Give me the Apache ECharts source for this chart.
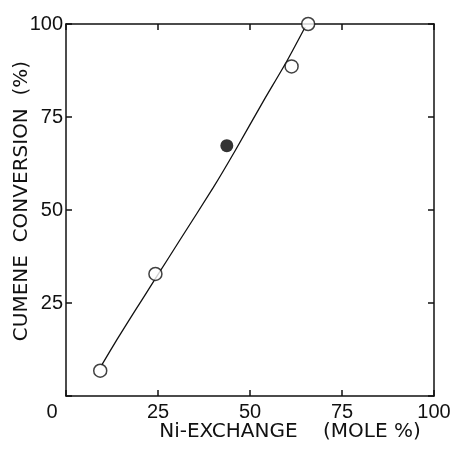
<!DOCTYPE html>
<html>
	<head>
		<meta charset="utf-8">
		<title></title>
		<style type="text/css">
			html,body{margin:0;padding:0;background:#fff;}
			#main{
				width: 451px;
				height: 452px;
			}
		</style>
	</head>
	<body>
		<div id="main"></div>
	</body>
<script src="https://cdn.jsdelivr.net/npm/echarts@6/dist/echarts.min.js" type="text/javascript" charset="utf-8"></script>
<script type="text/javascript">
	// data
	var xTicks=[0,25,50,75,100]
	var yTicks=[0,25,50,75,100]
	// open circles (Ni-exchange %, conversion %)
	var openX=[9.3,24.3,61.3,65.8]
	var openY=[6.8,32.8,88.6,100]
	// filled circle
	var fillX=[43.7]
	var fillY=[67.3]
	// hand drawn curve through the points
	var curveX=[9.7,13.8,18.3,24.2,31.0,40.0,46.0,53.6,60.0,65.0]
	var curveY=[8.3,15.1,22.2,31.4,42.0,56.0,66.0,79.2,90.0,99.2]

	function pairs(xs,ys){
		var out=[]
		for(var i=0;i<xs.length;i++){
			out.push([xs[i],ys[i]])
		}
		return out
	}

	var fontName='Liberation Sans'
	var chartDom=document.getElementById('main');
	var myChart=echarts.init(chartDom);
	var option;

	var lineStyle={color:'#111',width:1.5}
	function frameAxis(pos){
		return {
			type:'value',min:0,max:100,interval:25,position:pos,
			axisLine:{show:true,onZero:false,lineStyle:lineStyle},
			axisTick:{show:true,inside:true,length:6,lineStyle:lineStyle},
			axisLabel:{show:false},
			splitLine:{show:false}
		}
	}
	option={
		backgroundColor:'#fff',
		animation:false,
		grid:{left:66,right:17,top:24,bottom:56,containLabel:false,outerBoundsMode:'none'},
		xAxis:[
			{
				type:'value',min:xTicks[0],max:xTicks[xTicks.length-1],interval:25,
				position:'bottom',
				name:'Ni-EXCHANGE    (MOLE %)',
				nameLocation:'middle',nameGap:26,nameMoveOverlap:false,
				nameTextStyle:{fontFamily:'DejaVu Sans',fontSize:20,color:'#111',padding:[0,0,0,80]},
				axisLine:{show:true,onZero:false,lineStyle:lineStyle},
				axisTick:{show:true,inside:true,length:6,lineStyle:lineStyle},
				splitLine:{show:false},
				axisLabel:{
					fontFamily:fontName,fontSize:20,color:'#111',margin:6,
					formatter:function(v){
						if(v===0){return '{z|0}'}
						return v+''
					},
					rich:{z:{fontFamily:fontName,fontSize:20,color:'#111',padding:[0,28,0,0]}}
				}
			},
			frameAxis('top')
		],
		yAxis:[
			{
				type:'value',min:yTicks[0],max:yTicks[yTicks.length-1],interval:25,
				position:'left',
				name:'CUMENE  CONVERSION  (%)',
				nameLocation:'middle',nameGap:34,nameMoveOverlap:false,
				nameTextStyle:{fontFamily:'DejaVu Sans',fontSize:20,color:'#111',padding:[0,0,0,18]},
				axisLine:{show:true,onZero:false,lineStyle:lineStyle},
				axisTick:{show:true,inside:true,length:6,lineStyle:lineStyle},
				splitLine:{show:false},
				axisLabel:{
					fontFamily:fontName,fontSize:20,color:'#111',margin:3,
					formatter:function(v){
						if(v===0){return ''}
						return v+''
					}
				}
			},
			frameAxis('right')
		],
		series:[
			{
				type:'line',
				data:pairs(curveX,curveY),
				smooth:0.2,
				showSymbol:false,
				lineStyle:{color:'#111',width:1.3},
				z:2
			},
			{
				type:'scatter',
				data:pairs(openX,openY),
				symbol:'circle',
				symbolSize:13,
				itemStyle:{color:'#fff',borderColor:'#111',borderWidth:1.5},
				z:3
			},
			{
				type:'scatter',
				data:pairs(fillX,fillY),
				symbol:'circle',
				symbolSize:13,
				itemStyle:{color:'#000'},
				z:3
			}
		]
	};

	option && myChart.setOption(option);
</script>
</html>
